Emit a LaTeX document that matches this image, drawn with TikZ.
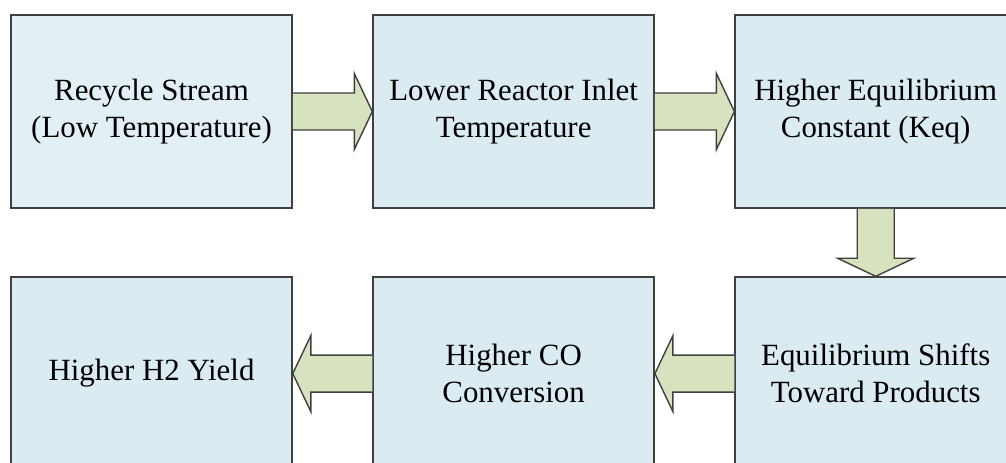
\documentclass[tikz,border=0pt]{standalone}
\usepackage{fontspec}
\setmainfont{Liberation Serif}
\usepackage{tikz}
\usetikzlibrary{positioning,calc}
\definecolor{cbox}{HTML}{DAEBF2}
\definecolor{cboxL}{HTML}{E2F0F5}
\definecolor{cline}{HTML}{404040}
\definecolor{carrow}{HTML}{D7E3BE}
\tikzset{
  sbox/.style={draw=cline, fill=cbox, line width=1.6bp, align=center,
               minimum width=281bp, minimum height=193bp, inner sep=0pt,
               font=\fontsize{31}{37}\selectfont},
  bflow/.style={draw=cline, fill=carrow, line width=1.4bp, line join=miter},
}

\begin{document}
\begin{tikzpicture}[x=1bp, y=-1bp, node distance=67.5bp and 79.5bp]
  \useasboundingbox (0,0) rectangle (1006,463);
  \clip (0,0) rectangle (1006,463);
  \node[sbox, fill=cboxL] (rec) at (151.5,111.5) {Recycle Stream\\(Low Temperature)};
  \node[sbox, right=of rec] (inlet) {Lower Reactor Inlet\\Temperature};
  \node[sbox, right=of inlet] (keq) {Higher Equilibrium\\Constant (Keq)};
  \node[sbox, below=of keq] (shift) {Equilibrium Shifts\\Toward Products};
  \node[sbox, left=of shift] (conv) {Higher CO\\Conversion};
  \node[sbox, left=of conv] (yield) {Higher H2 Yield};
  % block arrows between the boxes
  \foreach \p/\q in {rec.east/inlet.west, inlet.east/keq.west, keq.south/shift.north,
                     shift.west/conv.east, conv.west/yield.east} {
    \coordinate (s) at (\p);
    \coordinate (t) at (\q);
    \coordinate (h) at ($(t)!18bp!(s)$);
    \draw[bflow] ($(s)!18.5bp!90:(t)$) -- ($(h)!18.5bp!90:(t)$) -- ($(h)!38bp!90:(t)$)
      -- (t) -- ($(h)!38bp!-90:(t)$) -- ($(h)!18.5bp!-90:(t)$) -- ($(s)!18.5bp!-90:(t)$);
  }
\end{tikzpicture}
\end{document}
